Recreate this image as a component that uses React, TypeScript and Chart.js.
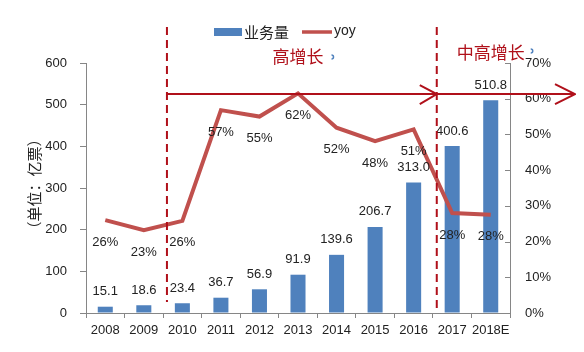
import React, { useEffect, useRef } from "react";
import { Chart, registerables } from "chart.js";

Chart.register(...registerables);

const categories = ["2008", "2009", "2010", "2011", "2012", "2013", "2014", "2015", "2016", "2017", "2018E"];
const volume = [15.1, 18.6, 23.4, 36.7, 56.9, 91.9, 139.6, 206.7, 313.0, 400.6, 510.8];
const yoy = [26, 23.2, 25.8, 56.8, 55.0, 61.5, 51.9, 48.1, 51.4, 28.0, 27.5];
const leftTicks = [0, 100, 200, 300, 400, 500, 600];
const rightTicks = [0, 10, 20, 30, 40, 50, 60, 70];
const seriesNames = ["业务量", "yoy"];
const phaseLabels = ["高增长", "中高增长"];
const axisTitle = "（单位：亿票）";

const BLUE = "#4F81BD";
const RED = "#C0504D";
const DARK_RED = "#B0101A";
const AXIS = "#868686";
const TEXT = "#222222";
const NUM_FONT = "'Liberation Sans', Arial, sans-serif";
const CJK_FONT = "'Noto Sans CJK SC', 'Noto Sans', sans-serif";

const overlay = {
  id: "overlay",
  afterDraw(chart: any) {
    const ctx = chart.ctx as CanvasRenderingContext2D;
    const x = chart.scales.x;
    const y = chart.scales.y;
    const y1 = chart.scales.y1;
    const area = chart.chartArea;
    ctx.save();

    // right axis inward ticks
    ctx.strokeStyle = AXIS;
    ctx.lineWidth = 1;
    rightTicks.forEach((t) => {
      const py = Math.round(y1.getPixelForValue(t)) + 0.5;
      ctx.beginPath();
      ctx.moveTo(area.right - 5, py);
      ctx.lineTo(area.right, py);
      ctx.stroke();
    });

    // bar labels
    ctx.fillStyle = TEXT;
    ctx.font = `13px ${NUM_FONT}`;
    ctx.textAlign = "center";
    ctx.textBaseline = "middle";
    volume.forEach((v, i) => {
      ctx.fillText(v.toFixed(1), x.getPixelForValue(i), y.getPixelForValue(v) - 15);
    });
    // yoy labels
    yoy.forEach((v, i) => {
      ctx.fillText(Math.round(v) + "%", x.getPixelForValue(i), y1.getPixelForValue(v) + 22);
    });

    // dashed vertical lines
    ctx.strokeStyle = DARK_RED;
    ctx.lineWidth = 2;
    ctx.setLineDash([8, 5]);
    const d1 = x.getPixelForValue(1.6);
    const d2 = x.getPixelForValue(8.6);
    ctx.beginPath();
    ctx.moveTo(d1, 19);
    ctx.lineTo(d1, area.bottom - 11);
    ctx.moveTo(d2, 19);
    ctx.lineTo(d2, area.bottom - 2);
    ctx.stroke();
    ctx.setLineDash([]);

    // arrows
    const ay = y1.getPixelForValue(61.3);
    const aEnd = area.right + 65;
    ctx.beginPath();
    ctx.moveTo(d1, ay);
    ctx.lineTo(aEnd, ay);
    ctx.moveTo(d2 - 17, ay - 9);
    ctx.lineTo(d2, ay);
    ctx.lineTo(d2 - 17, ay + 10);
    ctx.moveTo(aEnd - 20, ay - 10);
    ctx.lineTo(aEnd, ay);
    ctx.lineTo(aEnd - 20, ay + 10);
    ctx.stroke();

    // phase labels
    ctx.fillStyle = DARK_RED;
    ctx.font = `17px ${CJK_FONT}`;
    ctx.textAlign = "center";
    ctx.textBaseline = "middle";
    const p1x = x.getPixelForValue(5);
    const p2x = x.getPixelForValue(10);
    ctx.fillText(phaseLabels[0], p1x, area.top - 6);
    ctx.fillText(phaseLabels[1], p2x, area.top - 10);
    // small blue marks
    ctx.strokeStyle = BLUE;
    ctx.lineWidth = 1.5;
    const w1 = ctx.measureText(phaseLabels[0]).width;
    const w2 = ctx.measureText(phaseLabels[1]).width;
    [[p1x + w1 / 2 + 8, area.top - 6], [p2x + w2 / 2 + 6, area.top - 12]].forEach(([mx, my]) => {
      ctx.beginPath();
      ctx.arc(mx, my, 2, -Math.PI / 2, Math.PI / 2);
      ctx.stroke();
    });

    // legend
    const ly = 24;
    ctx.fillStyle = BLUE;
    ctx.fillRect(206, ly - 4, 28, 8);
    ctx.fillStyle = TEXT;
    ctx.font = `15px ${CJK_FONT}`;
    ctx.textAlign = "left";
    ctx.fillText(seriesNames[0], 236, ly);
    ctx.strokeStyle = RED;
    ctx.lineWidth = 3.5;
    ctx.beginPath();
    ctx.moveTo(294, ly);
    ctx.lineTo(324, ly);
    ctx.stroke();
    ctx.font = `14px ${NUM_FONT}`;
    ctx.fillText(seriesNames[1], 326, ly - 1);

    // y axis title
    ctx.save();
    ctx.translate(26, (area.top + area.bottom) / 2 - 4);
    ctx.rotate(-Math.PI / 2);
    ctx.font = `15px ${CJK_FONT}`;
    ctx.textAlign = "center";
    ctx.fillStyle = TEXT;
    ctx.fillText(axisTitle, 0, 0);
    ctx.restore();

    ctx.restore();
  },
};

export default function App() {
  const ref = useRef<HTMLCanvasElement>(null);
  useEffect(() => {
    if (!ref.current) return;
    const chart = new Chart(ref.current, {
      type: "bar",
      data: {
        labels: categories,
        datasets: [
          {
            type: "line",
            label: seriesNames[1],
            data: yoy,
            yAxisID: "y1",
            borderColor: RED,
            backgroundColor: RED,
            borderWidth: 4,
            pointRadius: 0,
            tension: 0,
            order: 0,
          } as any,
          {
            type: "bar",
            label: seriesNames[0],
            data: volume,
            yAxisID: "y",
            backgroundColor: BLUE,
            categoryPercentage: 1,
            barPercentage: 0.39,
            order: 1,
          },
        ],
      },
      options: {
        animation: false,
        responsive: false,
        maintainAspectRatio: false,
        layout: { padding: { top: 55, left: 0, right: 0, bottom: 0 } },
        plugins: { legend: { display: false }, tooltip: { enabled: false } },
        scales: {
          x: {
            offset: true,
            grid: { drawOnChartArea: false, tickLength: 5, color: AXIS, offset: true },
            border: { color: AXIS },
            ticks: { font: { size: 13, family: NUM_FONT }, color: TEXT, padding: 5, maxRotation: 0, autoSkip: false },
            afterFit: (s: any) => { s.height = 31; },
          },
          y: {
            position: "left",
            min: 0,
            max: 600,
            afterBuildTicks: (s: any) => { s.ticks = leftTicks.map((v) => ({ value: v })); },
            grid: { drawOnChartArea: false, tickLength: 6, color: AXIS },
            border: { color: AXIS },
            ticks: { font: { size: 13, family: NUM_FONT }, color: TEXT, padding: 13 },
            afterFit: (s: any) => { s.width = 78; },
          },
          y1: {
            position: "right",
            min: 0,
            max: 70,
            afterBuildTicks: (s: any) => { s.ticks = rightTicks.map((v) => ({ value: v })); },
            grid: { display: false, drawTicks: false },
            border: { color: AXIS, display: true },
            ticks: { font: { size: 13, family: NUM_FONT }, color: TEXT, padding: 15, callback: (v: any) => v + "%" },
            afterFit: (s: any) => { s.width = 66; },
          },
        },
      },
      plugins: [overlay],
    });
    return () => chart.destroy();
  }, []);
  return <canvas ref={ref} width={568} height={336} style={{ display: "block" }} />;
}
